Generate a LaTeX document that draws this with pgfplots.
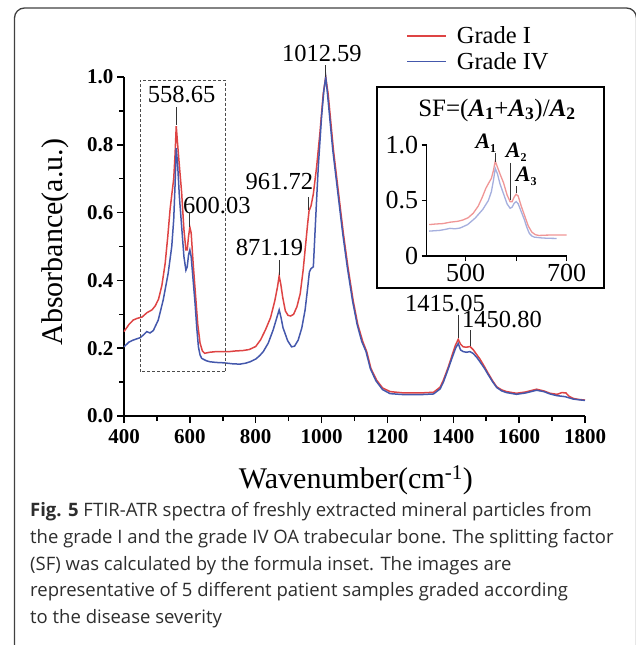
\documentclass[border=0pt]{standalone}
\usepackage{fontspec}
\setmainfont{Liberation Serif}
\newfontfamily\capfont{Open Sans}
\usepackage{pgfplots}
\usepackage{pgfplotstable}
\pgfplotsset{compat=1.18}

\definecolor{gIred}{RGB}{222,68,68}
\definecolor{gIVblue}{RGB}{68,88,172}
\definecolor{inred}{RGB}{240,150,150}
\definecolor{inblue}{RGB}{165,175,222}
\definecolor{capgray}{RGB}{45,45,45}

\newcommand{\fs}[1]{\fontsize{#1}{#1}\selectfont}
\newcommand{\bA}[1]{\textbf{\textit{A}}\textsubscript{\textbf{#1}}}
\newcommand{\sA}[1]{\textbf{\textit{A}}\raisebox{-0.18em}{\fs{12}\textbf{#1}}}

% Grade I spectrum
\pgfplotstableread{
wn a
400 0.249
415 0.270
428 0.283
440 0.288
455 0.292
470 0.305
485 0.313
495 0.325
505 0.345
515 0.385
525 0.450
533 0.530
540 0.610
546 0.660
551 0.700
555 0.770
558.65 0.855
563 0.800
568 0.740
575 0.660
582 0.550
588 0.490
592 0.490
596 0.530
600 0.557
604 0.540
610 0.450
617 0.360
624 0.270
631 0.215
638 0.192
645 0.185
660 0.188
680 0.190
700 0.190
720 0.190
740 0.192
760 0.193
780 0.196
800 0.205
815 0.225
830 0.255
845 0.290
858 0.340
866 0.380
871.19 0.413
876 0.390
882 0.350
890 0.310
898 0.297
906 0.295
915 0.300
925 0.322
935 0.360
944 0.430
952 0.510
958 0.570
962 0.605
968 0.620
975 0.655
985 0.735
995 0.835
1005 0.950
1012.59 1.000
1020 0.950
1036 0.785
1050 0.670
1066 0.540
1080 0.440
1096 0.340
1110 0.270
1125 0.220
1137 0.190
1150 0.140
1167 0.106
1185 0.083
1208 0.072
1250 0.068
1300 0.068
1340 0.070
1360 0.085
1370 0.106
1385 0.145
1395 0.175
1407 0.210
1415.05 0.226
1422 0.212
1430 0.204
1440 0.203
1450.8 0.205
1461 0.195
1472 0.180
1481 0.168
1495 0.145
1506 0.126
1520 0.103
1532 0.086
1547 0.077
1562 0.072
1592 0.067
1620 0.071
1653 0.079
1675 0.074
1694 0.067
1715 0.064
1730 0.069
1742 0.068
1752 0.058
1764 0.052
1780 0.049
1800 0.047
}\gradeI

% Grade IV spectrum
\pgfplotstableread{
wn a
400 0.204
415 0.218
428 0.224
440 0.228
449 0.231
460 0.240
469 0.249
479 0.245
489 0.252
504 0.283
519 0.342
534 0.420
545 0.500
551 0.580
555 0.680
558.65 0.790
563 0.740
568 0.650
575 0.560
582 0.470
588 0.430
592 0.440
596 0.475
600 0.490
604 0.470
610 0.400
616 0.330
621 0.260
626 0.204
631 0.180
636 0.170
650 0.163
661 0.160
680 0.158
701 0.157
730 0.154
752 0.153
770 0.156
783 0.160
800 0.168
812 0.178
823 0.190
838 0.215
853 0.254
864 0.290
871.19 0.313
877 0.290
883 0.260
889 0.244
897 0.222
909 0.204
918 0.206
929 0.224
940 0.260
950 0.313
958 0.380
963 0.425
968 0.435
975 0.440
980 0.540
985 0.640
990 0.735
1000 0.883
1007 0.960
1012.59 1.000
1018 0.950
1034 0.785
1048 0.670
1064 0.540
1078 0.440
1094 0.340
1108 0.270
1122 0.220
1135 0.190
1148 0.140
1165 0.104
1185 0.078
1208 0.066
1250 0.063
1300 0.063
1340 0.065
1360 0.080
1370 0.100
1385 0.140
1395 0.168
1407 0.200
1415.05 0.214
1422 0.195
1430 0.190
1440 0.188
1450.8 0.190
1461 0.184
1472 0.172
1481 0.160
1495 0.140
1506 0.122
1520 0.100
1532 0.084
1547 0.074
1562 0.069
1592 0.064
1620 0.068
1653 0.076
1675 0.072
1694 0.065
1715 0.060
1740 0.057
1764 0.050
1780 0.048
1800 0.046
}\gradeIV

\begin{document}
\begin{tikzpicture}
\useasboundingbox (0pt,0pt) rectangle (636pt,-645pt);
\clip (0pt,0pt) rectangle (636pt,-645pt);
\draw[line width=1.3pt, rounded corners=10pt, black!75] (14.5pt,-665pt) rectangle (636.5pt,-8pt);

% main spectrum
\begin{axis}[
  at={(124pt,-416pt)}, anchor=south west,
  scale only axis, width=461pt, height=339pt,
  xmin=400, xmax=1800, ymin=0, ymax=1,
  axis x line*=bottom, axis y line*=left,
  axis line style={line width=1.8pt},
  xtick={400,600,800,1000,1200,1400,1600,1800},
  xticklabels={400,600,800,1000,1200,1400,1600,1800},
  ytick={0,0.2,0.4,0.6,0.8,1.0},
  yticklabels={0.0,0.2,0.4,0.6,0.8,1.0},
  minor x tick num=1, minor y tick num=1,
  tick align=outside, major tick length=7pt, minor tick length=5pt,
  every tick/.style={black, line width=1.5pt},
  /pgf/number format/assume math mode=true,
  ticklabel style={font=\bfseries\fs{21}},
  xticklabel shift=3pt,
  xlabel={Wavenumber(cm\textsuperscript{-1})},
  ylabel={Absorbance(a.u.)},
  label style={font=\fs{30}},
  xlabel style={at={(axis description cs:0.503,-0.19)}, anchor=center},
  ylabel style={at={(axis description cs:-0.15,0.513)}, anchor=center},
  clip=false,
  legend style={at={(axis description cs:0.612,1.152)}, anchor=north west,
    draw=none, fill=none, inner sep=0pt, row sep=5pt,
    font=\fs{24.5}, nodes={inner sep=1pt}},
  legend cell align=left,
  legend image code/.code={\draw[#1] (0pt,0pt) -- (39pt,0pt);},
  /tikz/every odd column/.append style={column sep=9pt},
]
\addplot[gIred, line width=1.5pt] table[x=wn, y=a] {\gradeI};
\addlegendentry{Grade I}
\addplot[gIVblue, line width=1.5pt] table[x=wn, y=a] {\gradeIV};
\addlegendentry{Grade IV}

\draw[black!70, line width=1pt, dash pattern=on 3pt off 2pt]
  (axis cs:449,0.13) rectangle (axis cs:709,0.991);

\begin{scope}[every node/.style={font=\fs{24.5}, inner sep=0pt}]
\node at (axis cs:575,0.947) {558.65};
\node at (axis cs:682,0.622) {600.03};
\node at (axis cs:842,0.496) {871.19};
\node at (axis cs:872,0.693) {961.72};
\node at (axis cs:1001,1.068) {1012.59};
\node at (axis cs:1375,0.333) {1415.05};
\node at (axis cs:1548,0.286) {1450.80};
\end{scope}
\begin{scope}[black!80, line width=1pt]
\draw (axis cs:558.65,0.912) -- (axis cs:558.65,0.858);
\draw (axis cs:600.03,0.599) -- (axis cs:600.03,0.557);
\draw (axis cs:871.19,0.460) -- (axis cs:871.19,0.415);
\draw (axis cs:961.72,0.646) -- (axis cs:961.72,0.608);
\draw (axis cs:1012.59,1.035) -- (axis cs:1012.59,1.0);
\draw (axis cs:1415.05,0.298) -- (axis cs:1415.05,0.230);
\draw (axis cs:1450.80,0.254) -- (axis cs:1450.80,0.207);
\end{scope}
\end{axis}

% inset box
\fill[white] (377pt,-87pt) rectangle (604pt,-288pt);
\draw[line width=1.8pt] (377pt,-87pt) rectangle (604pt,-288pt);
\node[font=\fs{25}, inner sep=0pt] at (497pt,-110pt)
  {SF=(\bA{1}+\bA{3})/\bA{2}};

\begin{axis}[
  at={(426.7pt,-256pt)}, anchor=south west,
  scale only axis, width=140pt, height=111pt,
  xmin=423, xmax=700, ymin=0, ymax=1,
  axis x line*=bottom, axis y line*=left,
  axis line style={line width=1.5pt},
  xtick={500,600,700}, xticklabels={500,,700},
  ytick={0,0.5,1}, yticklabels={0,0.5,1.0},
  tick align=outside, major tick length=5pt,
  every tick/.style={black, line width=1.2pt},
  /pgf/number format/assume math mode=true,
  ticklabel style={font=\fs{26}},
  clip=false,
]
\addplot[inred, line width=1.3pt, restrict x to domain=423:700] table[x=wn, y=a] {\gradeI};
\addplot[inblue, line width=1.3pt, restrict x to domain=423:700] table[x=wn, y=a] {\gradeIV};
\begin{scope}[every node/.style={font=\fs{22}, inner sep=0pt}]
\node at (axis cs:540,1.02) {\sA{1}};
\node at (axis cs:600,0.935) {\sA{2}};
\node at (axis cs:620,0.715) {\sA{3}};
\end{scope}
\begin{scope}[black!80, line width=1pt]
\draw (axis cs:558.65,0.928) -- (axis cs:558.65,0.847);
\draw (axis cs:589,0.838) -- (axis cs:589,0.505);
\draw (axis cs:600,0.63) -- (axis cs:600,0.568);
\end{scope}
\end{axis}

% caption
\begin{scope}[every node/.style={anchor=base west, inner sep=0pt, text=capgray, font=\capfont\fs{18.5}}]
\node at (30pt,-516pt) {\textbf{Fig. 5} FTIR-ATR spectra of freshly extracted mineral particles from};
\node at (30pt,-543pt) {the grade I and the grade IV OA trabecular bone. The splitting factor};
\node at (30pt,-570pt) {(SF) was calculated by the formula inset. The images are};
\node at (30pt,-596.5pt) {representative of 5 different patient samples graded according};
\node at (30pt,-623pt) {to the disease severity};
\end{scope}
\end{tikzpicture}
\end{document}
